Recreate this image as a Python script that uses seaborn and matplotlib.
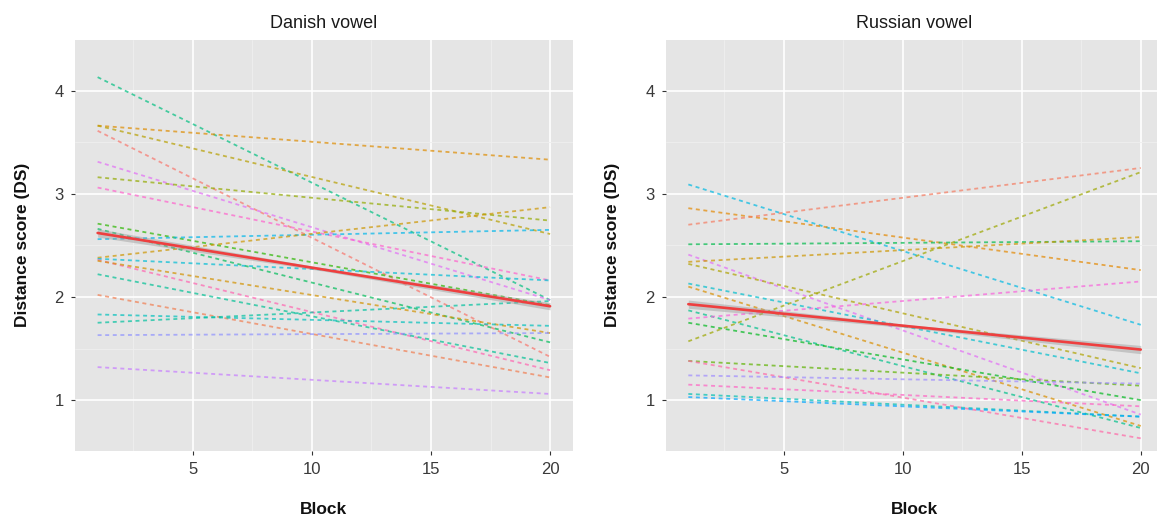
import numpy as np
import pandas as pd
import matplotlib
matplotlib.use("Agg")
import matplotlib.pyplot as plt
import seaborn as sns

# ---------------- data ----------------
blocks = [1, 20]

# Danish vowel: per-participant fitted DS at block 1 and block 20
danish_start = [4.13, 3.66, 3.66, 3.61, 3.31, 3.16, 3.06, 2.71, 2.66, 2.56,
                2.38, 2.37, 2.36, 2.35, 2.22, 2.02, 1.83, 1.75, 1.63, 1.32]
danish_end = [1.97, 3.33, 2.61, 1.42, 1.97, 2.74, 2.16, 1.92, 1.56, 2.65,
              2.87, 2.16, 1.29, 1.65, 1.36, 1.22, 1.72, 1.96, 1.65, 1.06]
danish_hue = [160, 45, 75, 15, 300, 95, 330, 125, 145, 220,
              60, 205, 345, 55, 170, 25, 190, 175, 265, 285]

# Russian vowel
russian_start = [3.09, 2.86, 2.70, 2.51, 2.41, 2.34, 2.32, 2.13, 2.10, 1.87,
                 1.79, 1.75, 1.57, 1.38, 1.38, 1.24, 1.15, 1.06, 1.03]
russian_end = [1.73, 2.26, 3.25, 2.54, 0.86, 2.58, 1.31, 1.26, 0.75, 0.73,
               2.15, 1.00, 3.21, 1.14, 0.63, 1.16, 0.94, 0.84, 0.84]
russian_hue = [215, 40, 20, 140, 300, 60, 80, 200, 50, 165,
               320, 130, 90, 115, 350, 270, 335, 185, 245]

# group means (linear fit) with confidence band at blocks 1, 10.5, 20
mean_blocks = [1, 10.5, 20]
danish_mean = [2.62, 2.265, 1.91]
danish_lo = [2.58, 2.25, 1.875]
danish_hi = [2.66, 2.28, 1.945]
russian_mean = [1.93, 1.71, 1.49]
russian_lo = [1.89, 1.695, 1.45]
russian_hi = [1.97, 1.725, 1.53]

titles = ["Danish vowel", "Russian vowel"]
x_ticks = [5, 10, 15, 20]
y_ticks = [1, 2, 3, 4]


# ---------------- ggplot-like hue colours ----------------
def hcl(h, c=100.0, l=65.0):
    Xn, Yn, Zn = 95.047, 100.0, 108.883
    hr = np.deg2rad(h)
    U, V = c * np.cos(hr), c * np.sin(hr)
    Y = Yn * ((l + 16) / 116) ** 3 if l > 8 else Yn * l / 903.3
    un = 4 * Xn / (Xn + 15 * Yn + 3 * Zn)
    vn = 9 * Yn / (Xn + 15 * Yn + 3 * Zn)
    u = U / (13 * l) + un
    v = V / (13 * l) + vn
    X = 9 * Y * u / (4 * v)
    Z = -X / 3 - 5 * Y + 3 * Y / v
    xyz = np.array([X, Y, Z]) / 100
    M = np.array([[3.2404542, -1.5371385, -0.4985314],
                  [-0.9692660, 1.8760108, 0.0415560],
                  [0.0556434, -0.2040259, 1.0572252]])
    rgb = M @ xyz
    rgb = np.where(rgb <= 0.0031308, 12.92 * rgb,
                   1.055 * np.clip(rgb, 0, None) ** (1 / 2.4) - 0.055)
    return tuple(np.clip(rgb, 0, 1))


def make_df(start, end):
    rows = []
    for i, (s, e) in enumerate(zip(start, end)):
        rows.append({"participant": f"P{i+1}", "Block": blocks[0], "DS": s})
        rows.append({"participant": f"P{i+1}", "Block": blocks[1], "DS": e})
    return pd.DataFrame(rows)


sns.set_theme(style="darkgrid")
plt.rcParams["font.family"] = ["Liberation Sans", "DejaVu Sans"]

W, H = 1157, 517
fig = plt.figure(figsize=(W / 100, H / 100), dpi=100)

panel_left_px = [75, 665.7]
panel_w_px = 497.7
panel_top_px, panel_bot_px = 40, 450.7

panels = [
    (danish_start, danish_end, danish_hue, danish_mean, danish_lo, danish_hi),
    (russian_start, russian_end, russian_hue, russian_mean, russian_lo, russian_hi),
]

for k, (st, en, hues, mn, lo, hi) in enumerate(panels):
    ax = fig.add_axes([panel_left_px[k] / W, 1 - panel_bot_px / H,
                       panel_w_px / W, (panel_bot_px - panel_top_px) / H])
    ax.set_facecolor("#E5E5E5")
    df = make_df(st, en)
    pal = {f"P{i+1}": hcl(h) for i, h in enumerate(hues)}
    sns.lineplot(data=df, x="Block", y="DS", hue="participant", palette=pal,
                 legend=False, ax=ax, linewidth=1.3, linestyle=(0, (2.2, 2.0)),
                 alpha=0.7, zorder=3)
    mdf = pd.DataFrame({"Block": mean_blocks, "DS": mn})
    ax.fill_between(mean_blocks, lo, hi, color="#9A9A9A", alpha=0.45,
                    linewidth=0, zorder=4)
    sns.lineplot(data=mdf, x="Block", y="DS", color="#EE3F3F", linewidth=1.9,
                 ax=ax, zorder=5)

    ax.set_xlim(0.05, 20.95)
    ax.set_ylim(0.51, 4.49)
    ax.set_xticks(x_ticks)
    ax.set_yticks(y_ticks)
    ax.set_xticks([2.5, 7.5, 12.5, 17.5], minor=True)
    ax.set_yticks([1.5, 2.5, 3.5], minor=True)
    ax.grid(which="major", color="white", linewidth=1.2)
    ax.grid(which="minor", color="#EFEFEF", linewidth=0.6)
    ax.set_axisbelow(True)
    for s in ax.spines.values():
        s.set_visible(False)
    ax.tick_params(axis="both", which="major", length=3, width=0.8,
                   color="#333333", labelcolor="#3A3A3A", labelsize=12,
                   pad=5, bottom=True, left=True)
    ax.tick_params(which="minor", length=0)
    ax.set_title(titles[k], fontsize=13, color="#1A1A1A", pad=9)
    ax.set_xlabel("Block", fontsize=12.5, fontweight="bold", labelpad=18,
                  color="#111111")
    ax.set_ylabel("Distance score (DS)", fontsize=12.5, fontweight="bold",
                  labelpad=18, color="#111111")

fig.savefig("out.png", dpi=100)
